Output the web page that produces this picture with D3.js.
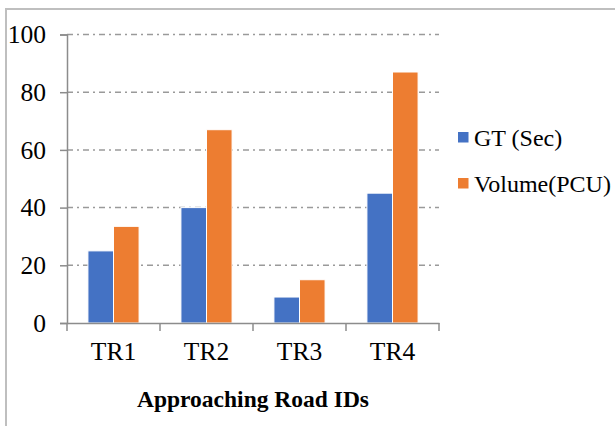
<!DOCTYPE html>
<html>
<head>
<meta charset="utf-8">
<script src="https://cdn.jsdelivr.net/npm/d3@7"></script>
<style>
	body { margin: 0; background: #fff; }
</style>
</head>
<body>
<div class="chart"></div>
<script>
var categories = ["TR1", "TR2", "TR3", "TR4"];
var seriesNames = ["GT (Sec)", "Volume(PCU)"];
var gtValues = [25, 40, 9, 45];
var volumeValues = [33.5, 67, 15, 87];
var yTicks = [0, 20, 40, 60, 80, 100];
var colors = ["#4472C4", "#ED7D31"];

var width = 615;
var height = 426;
var serif = "'Liberation Serif', 'Times New Roman', Times, serif";

var svg = d3.select(".chart")
	.append("svg")
	.attr("width", width)
	.attr("height", height);

// outer chart border
svg.append("rect")
	.attr("x", 6)
	.attr("y", 9)
	.attr("width", 640)
	.attr("height", 440)
	.attr("fill", "none")
	.attr("stroke", "#bfbfbf")
	.attr("stroke-width", 2);

var x0 = d3.scaleBand()
	.domain(categories)
	.range([67, 439]);

var x1 = d3.scaleBand()
	.domain(seriesNames)
	.range([x0.bandwidth() * 0.225, x0.bandwidth() * 0.775]);

var y = d3.scaleLinear()
	.domain([0, 100])
	.range([323, 34.5]);

// gridlines
svg.append("g")
	.selectAll("line")
	.data(yTicks.filter(function(d) { return d > 0; }))
	.enter()
	.append("line")
	.attr("x1", 67)
	.attr("x2", 439)
	.attr("y1", function(d) { return y(d); })
	.attr("y2", function(d) { return y(d); })
	.attr("stroke", "#9a9a9a")
	.attr("stroke-width", 1.5)
	.attr("stroke-dasharray", "6,4,2,4");

// bars
var rows = categories.map(function(c, i) {
	return { cat: c, values: [gtValues[i], volumeValues[i]] };
});

var group = svg.append("g")
	.selectAll("g")
	.data(rows)
	.enter()
	.append("g")
	.attr("transform", function(d) { return "translate(" + x0(d.cat) + ",0)"; });

group.selectAll("rect")
	.data(function(d) {
		return d.values.map(function(v, j) { return { key: seriesNames[j], value: v, idx: j }; });
	})
	.enter()
	.append("rect")
	.attr("x", function(d) { return x1(d.key); })
	.attr("y", function(d) { return y(d.value); })
	.attr("width", x1.bandwidth())
	.attr("height", function(d) { return y(0) - y(d.value); })
	.attr("fill", function(d) { return colors[d.idx]; })
	.attr("stroke", "#fff")
	.attr("stroke-width", 1);

// y axis
var yAxis = svg.append("g")
	.attr("transform", "translate(67,0)")
	.call(d3.axisLeft(y).tickValues(yTicks).tickSize(7).tickPadding(14));
yAxis.select(".domain").attr("stroke", "#8c8c8c").attr("stroke-width", 1.5);
yAxis.selectAll(".tick line").attr("stroke", "#8c8c8c").attr("stroke-width", 1.5);
yAxis.selectAll(".tick text")
	.style("font-size", "25.5px")
	.style("font-family", serif)
	.attr("fill", "#000");

// x axis
var xAxis = svg.append("g")
	.attr("transform", "translate(0," + y(0) + ")")
	.call(d3.axisBottom(x0).tickSize(0).tickPadding(19));
xAxis.select(".domain").attr("stroke", "#8c8c8c").attr("stroke-width", 1.5);
xAxis.selectAll(".tick text")
	.style("font-size", "25.5px")
	.style("font-family", serif)
	.attr("fill", "#000");

// category separators
svg.append("g")
	.selectAll("line")
	.data(categories.concat(["end"]))
	.enter()
	.append("line")
	.attr("x1", function(d) { return d === "end" ? x0.range()[1] : x0(d); })
	.attr("x2", function(d) { return d === "end" ? x0.range()[1] : x0(d); })
	.attr("y1", y(0))
	.attr("y2", y(0) + 8)
	.attr("stroke", "#8c8c8c")
	.attr("stroke-width", 1.5);

// axis title
svg.append("text")
	.attr("x", 253)
	.attr("y", 407)
	.attr("text-anchor", "middle")
	.style("font-size", "23.5px")
	.style("font-weight", "bold")
	.style("font-family", serif)
	.text("Approaching Road IDs");

// legend
var legend = svg.append("g")
	.selectAll("g")
	.data(seriesNames)
	.enter()
	.append("g")
	.attr("transform", function(d, i) { return "translate(458," + (132 + i * 46) + ")"; });

legend.append("rect")
	.attr("width", 10.5)
	.attr("height", 10.5)
	.attr("fill", function(d, i) { return colors[i]; });

legend.append("text")
	.attr("x", 16)
	.attr("y", 14)
	.style("font-size", "24px")
	.style("font-family", serif)
	.text(function(d) { return d; });
</script>
</body>
</html>
